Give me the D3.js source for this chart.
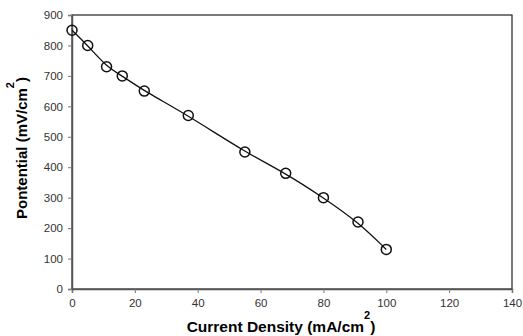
<!DOCTYPE html>
<html>
<head>
<meta charset="utf-8">
<script src="https://cdn.jsdelivr.net/npm/d3@7"></script>
<style>
  body { margin: 0; background: #fff; }
  text { font-family: Arial, "Liberation Sans", sans-serif; }
</style>
</head>
<body>
<svg id="chart"></svg>
<script>
// polarization curve values
const currentDensity = [0, 5, 11, 16, 23, 37, 55, 68, 80, 91, 100];
const potential = [850, 800, 730, 700, 650, 570, 450, 380, 300, 220, 130];
const xTicks = [0, 20, 40, 60, 80, 100, 120, 140];
const yTicks = [0, 100, 200, 300, 400, 500, 600, 700, 800, 900];

const width = 523;
const height = 336;
const margin = { top: 15, right: 11, bottom: 47, left: 72 };

const svg = d3.select('#chart')
	.attr('width', width)
	.attr('height', height);

const x = d3.scaleLinear()
	.domain([0, 140])
	.range([margin.left, width - margin.right]);

const y = d3.scaleLinear()
	.domain([0, 900])
	.range([height - margin.bottom, margin.top]);

const points = currentDensity.map((c, i) => ({ c: c, p: potential[i] }));

// frame
svg.append('rect')
	.attr('x', x(0))
	.attr('y', y(900))
	.attr('width', x(140) - x(0))
	.attr('height', y(0) - y(900))
	.attr('fill', 'none')
	.attr('stroke', '#222')
	.attr('stroke-width', 1.2);

const xAxis = svg.append('g')
	.attr('transform', 'translate(0,' + y(0) + ')')
	.call(d3.axisBottom(x).tickValues(xTicks).tickSize(4).tickPadding(6));

const yAxis = svg.append('g')
	.attr('transform', 'translate(' + x(0) + ',0)')
	.call(d3.axisLeft(y).tickValues(yTicks).tickSize(4).tickPadding(5));

[xAxis, yAxis].forEach((ax) => {
	ax.select('.domain').attr('stroke', '#555').attr('stroke-width', 1.5);
	ax.selectAll('.tick line').attr('stroke', '#777');
	ax.selectAll('.tick text')
		.attr('fill', '#333')
		.style('font-size', '11.5px')
		.style('font-family', 'Arial, "Liberation Sans", sans-serif');
});

// smoothed trend line through the points
const line = d3.line()
	.x(d => x(d.c))
	.y(d => y(d.p))
	.curve(d3.curveBasis);

svg.append('path')
	.datum(points)
	.attr('d', line)
	.attr('fill', 'none')
	.attr('stroke', '#111')
	.attr('stroke-width', 1.3);

svg.append('g')
	.selectAll('circle')
	.data(points)
	.enter()
		.append('circle')
		.attr('cx', d => x(d.c))
		.attr('cy', d => y(d.p))
		.attr('r', 5)
		.attr('fill', 'none')
		.attr('stroke', '#111')
		.attr('stroke-width', 1.5);

// axis titles
const xTitle = svg.append('text')
	.attr('x', 281)
	.attr('y', 332)
	.attr('text-anchor', 'middle')
	.style('font-size', '15.5px')
	.style('font-weight', 'bold')
	.attr('fill', '#000');
xTitle.append('tspan').text('Current Density (mA/cm');
xTitle.append('tspan').text('2').attr('dy', -13).style('font-size', '11px');
xTitle.append('tspan').text(')').attr('dy', 13);

const yTitle = svg.append('text')
	.attr('transform', 'translate(27,148) rotate(-90)')
	.attr('text-anchor', 'middle')
	.style('font-size', '15px')
	.style('font-weight', 'bold')
	.attr('fill', '#000');
yTitle.append('tspan').text('Pontential (mV/cm');
yTitle.append('tspan').text('2').attr('dy', -13).style('font-size', '11px');
yTitle.append('tspan').text(')').attr('dy', 13);
</script>
</body>
</html>
